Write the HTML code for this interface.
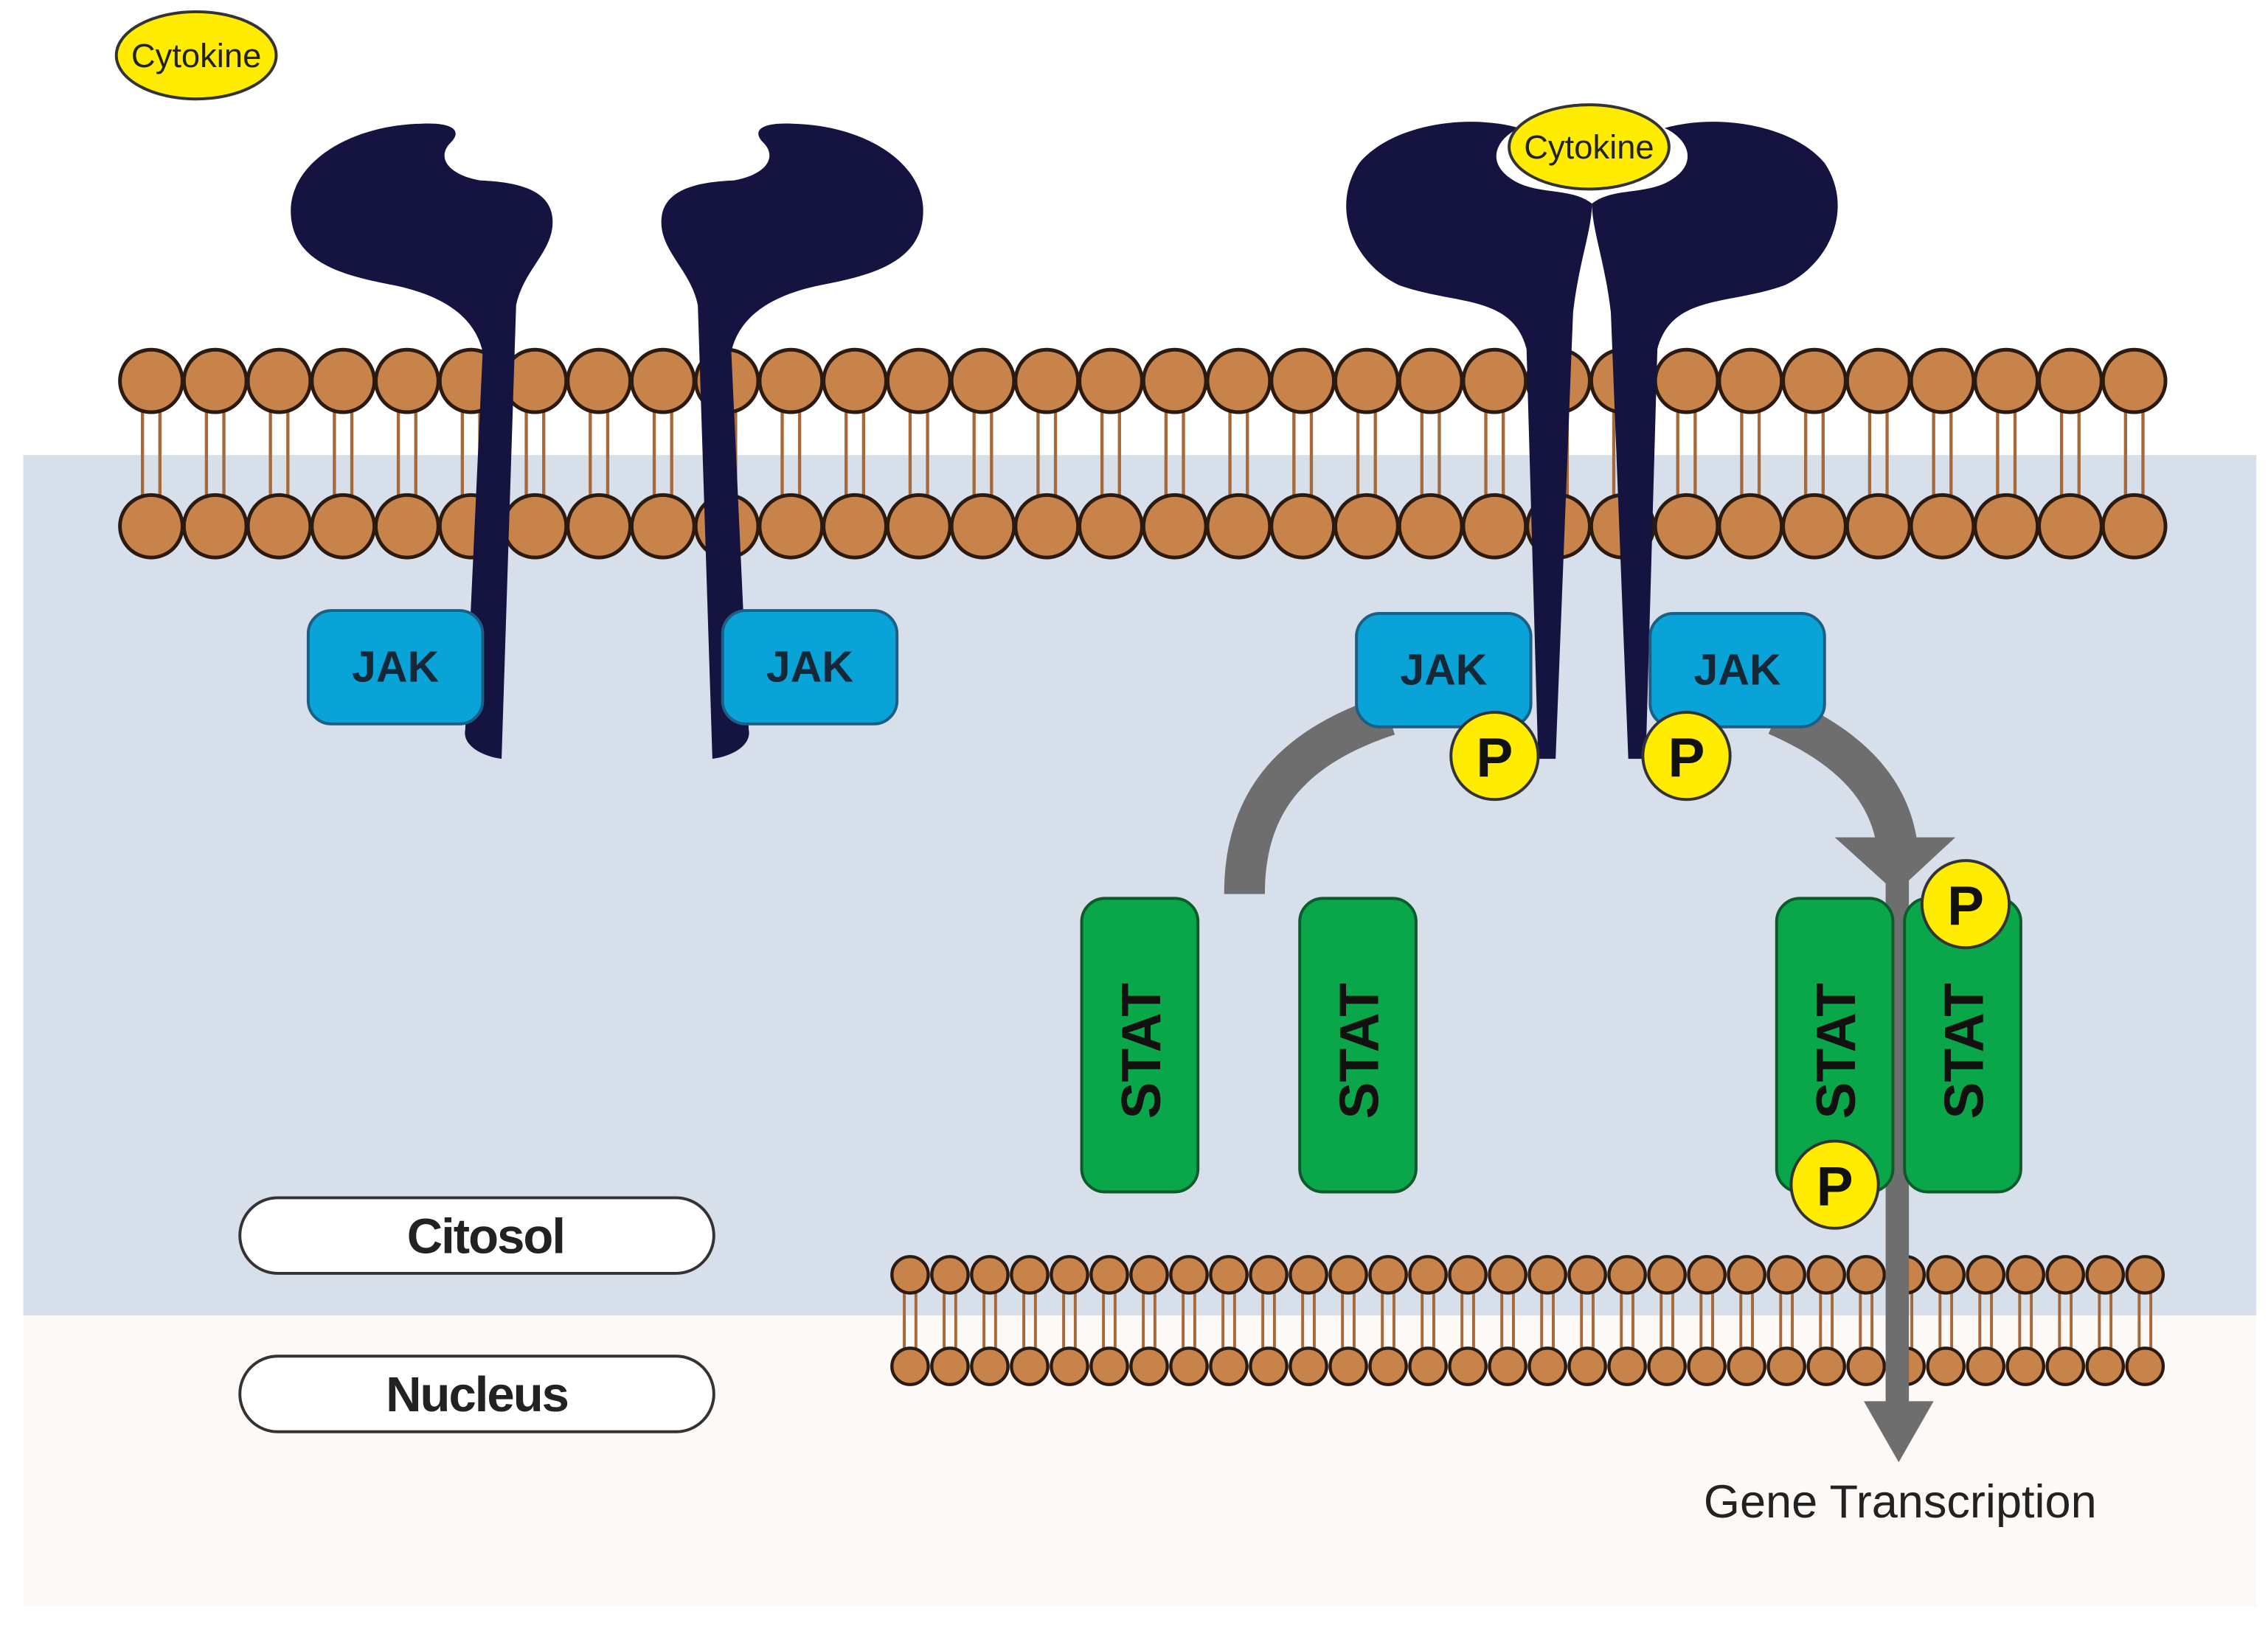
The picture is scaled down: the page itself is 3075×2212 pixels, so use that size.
<!DOCTYPE html>
<html><head><meta charset="utf-8"><style>html,body{margin:0;padding:0;background:#fff}svg{display:block}</style></head>
<body>
<svg width="3075" height="2212" viewBox="0 0 1560 1122" xmlns="http://www.w3.org/2000/svg" font-family="'Liberation Sans', sans-serif">
<rect x="0" y="0" width="1560" height="1122" fill="#fff"/>
<rect x="16" y="313" width="1536" height="592" fill="#d7e0ea"/>
<rect x="16" y="905" width="1536" height="200" fill="#fdf9f7"/>

<g stroke="#a8693a" stroke-width="2.2">
<g id="tails">
</g>
</g>
<g id="mem"></g>
<script>
(function(){
var ns="http://www.w3.org/2000/svg";
var t=document.getElementById('tails'),m=document.getElementById('mem');
function el(n,a,p){var e=document.createElementNS(ns,n);for(var k in a)e.setAttribute(k,a[k]);p.appendChild(e);return e;}
for(var i=0;i<32;i++){var x=104+i*44;
 el('line',{x1:x-6,y1:280,x2:x-6,y2:345},t);el('line',{x1:x+6,y1:280,x2:x+6,y2:345},t);}
for(var i=0;i<32;i++){var x=104+i*44;
 el('circle',{cx:x,cy:262,r:21.5,fill:'#c8834a',stroke:'#2a1a10','stroke-width':2.5},m);
 el('circle',{cx:x,cy:362,r:21.5,fill:'#c8834a',stroke:'#2a1a10','stroke-width':2.5},m);}
for(var i=0;i<32;i++){var x=626+i*27.4;
 el('line',{x1:x-4,y1:885,x2:x-4,y2:932,stroke:'#a8693a','stroke-width':2},m);
 el('line',{x1:x+4,y1:885,x2:x+4,y2:932,stroke:'#a8693a','stroke-width':2},m);}
for(var i=0;i<32;i++){var x=626+i*27.4;
 el('circle',{cx:x,cy:877,r:12.5,fill:'#c8834a',stroke:'#2a1a10','stroke-width':2.2},m);
 el('circle',{cx:x,cy:940,r:12.5,fill:'#c8834a',stroke:'#2a1a10','stroke-width':2.2},m);}
})();
</script>

<g fill="#15133f">
<path d="M345,522 L355,210 C360,185 382,172 380,150 C378,128 350,125 330,124 C308,120 300,108 310,98 C318,90 312,84 290,85 C240,86 200,112 200,145 C200,182 240,190 270,196 C300,202 326,215 332,242 L320,502 C318,512 330,520 345,522 Z"/>
<path d="M345,522 L355,210 C360,185 382,172 380,150 C378,128 350,125 330,124 C308,120 300,108 310,98 C318,90 312,84 290,85 C240,86 200,112 200,145 C200,182 240,190 270,196 C300,202 326,215 332,242 L320,502 C318,512 330,520 345,522 Z" transform="translate(835,0) scale(-1,1)"/>
<path d="M1070,522 L1082,215 C1086,180 1095,158 1095,140 C1080,128 1055,135 1038,122 C1022,110 1030,95 1045,88 C1010,78 958,85 935,112 C915,142 930,180 962,196 C1000,210 1040,202 1050,240 L1058,522 Z"/>
<path d="M1070,522 L1082,215 C1086,180 1095,158 1095,140 C1080,128 1055,135 1038,122 C1022,110 1030,95 1045,88 C1010,78 958,85 935,112 C915,142 930,180 962,196 C1000,210 1040,202 1050,240 L1058,522 Z" transform="translate(2190,0) scale(-1,1)"/>
</g>

<g fill="none" stroke="#6e6e6e" stroke-width="28">
<path d="M955,492 C885,515 856,555 856,615"/>
<path d="M1222,492 C1275,515 1300,545 1305,582"/>
</g>
<polygon points="1262,576 1345,576 1304,614" fill="#6e6e6e"/>
<rect x="1297" y="600" width="16" height="368" fill="#6e6e6e"/>
<polygon points="1282,964 1330,964 1306,1006" fill="#6e6e6e"/>

<g fill="#0aa3d8" stroke="#1b5e86" stroke-width="2">
<rect x="212" y="420" width="120" height="78" rx="16"/>
<rect x="497" y="420" width="120" height="78" rx="16"/>
<rect x="933" y="422" width="120" height="78" rx="16"/>
<rect x="1135" y="422" width="120" height="78" rx="16"/>
</g>
<g font-weight="bold" font-size="30" fill="#142838" text-anchor="middle">
<text x="272" y="469">JAK</text><text x="557" y="469">JAK</text>
<text x="993" y="471">JAK</text><text x="1195" y="471">JAK</text>
</g>

<g fill="#0aa64a" stroke="#0d5a2a" stroke-width="2">
<rect x="744" y="618" width="80" height="202" rx="16"/>
<rect x="894" y="618" width="80" height="202" rx="16"/>
<rect x="1222" y="618" width="80" height="202" rx="16"/>
<rect x="1310" y="618" width="80" height="202" rx="16"/>
</g>
<g font-weight="bold" font-size="38" fill="#111" text-anchor="middle">
<text transform="translate(798,723) rotate(-90)">STAT</text>
<text transform="translate(948,723) rotate(-90)">STAT</text>
<text transform="translate(1276,723) rotate(-90)">STAT</text>
<text transform="translate(1364,723) rotate(-90)">STAT</text>
</g>

<g fill="#ffec00" stroke="#333" stroke-width="2">
<circle cx="1028" cy="520" r="30"/><circle cx="1160" cy="520" r="30"/>
<circle cx="1352" cy="622" r="30"/><circle cx="1262" cy="815" r="30"/>
</g>
<g font-weight="bold" font-size="38" fill="#111" text-anchor="middle">
<text x="1028" y="534">P</text><text x="1160" y="534">P</text>
<text x="1352" y="636">P</text><text x="1262" y="829">P</text>
</g>

<ellipse cx="135" cy="38" rx="55" ry="30" fill="#ffec00" stroke="#333" stroke-width="2"/>
<text x="135" y="46" font-size="23" text-anchor="middle" fill="#222">Cytokine</text>
<ellipse cx="1093" cy="101" rx="55" ry="29" fill="#ffec00" stroke="#333" stroke-width="2"/>
<text x="1093" y="109" font-size="23" text-anchor="middle" fill="#222">Cytokine</text>

<rect x="165" y="824" width="326" height="52" rx="26" fill="#fff" stroke="#333" stroke-width="2"/>
<text x="334" y="862" font-size="34" font-weight="bold" text-anchor="middle" fill="#222" letter-spacing="-1">Citosol</text>
<rect x="165" y="933" width="326" height="52" rx="26" fill="#fff" stroke="#333" stroke-width="2"/>
<text x="328" y="971" font-size="34" font-weight="bold" text-anchor="middle" fill="#222" letter-spacing="-1">Nucleus</text>
<text x="1307" y="1044" font-size="32" text-anchor="middle" fill="#222">Gene Transcription</text>
</svg>
</body></html>
